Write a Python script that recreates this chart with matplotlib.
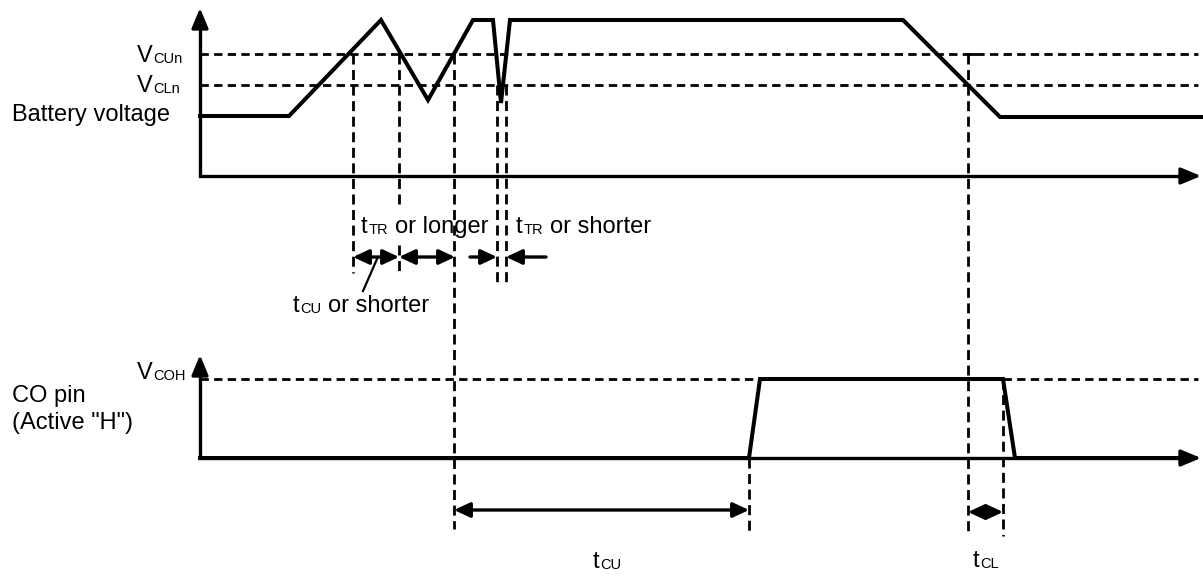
import matplotlib
matplotlib.use("Agg")
import matplotlib.pyplot as plt

plt.rcParams['font.family'] = ['Liberation Sans', 'DejaVu Sans']

# ---------------- data (diagram units: x = time, y = level, y grows downward) ----------------
W, H = 1203, 576

# battery voltage waveform
bat_t = [200, 289, 381, 428, 473, 493, 501, 510, 903, 1000, 1203]
bat_v = [116, 116, 20, 100, 20, 20, 103, 20, 20, 117, 117]

# CO pin waveform
co_t = [200, 749, 760, 1003, 1015, 1190]
co_v = [458, 458, 379, 379, 458, 458]

# threshold levels
v_cun = 54
v_cln = 85
v_coh = 379

# axes geometry
x_axis0 = 200
x_axis_end = 1201
top_base, top_tip = 176, 8
bot_base, bot_tip = 458, 355

# vertical dashed markers: (x, y_start, y_end)
markers = [
    (353, v_cun, 273),
    (399, v_cun, 205), (399, 245, 273),
    (454, v_cun, 529),
    (497, v_cln, 284),
    (506, v_cln, 282),
    (749, bot_base, 533),
    (968, v_cun, 536),
    (1003, v_coh, 536),
]

# dimension arrows: (x_from, x_to, y, style)
dims = [
    (353, 399, 257, '<|-|>'),
    (399, 455, 257, '<|-|>'),
    (470, 497, 257, '-|>'),
    (546, 506, 257, '-|>'),
    (454, 749, 510, '<|-|>'),
    (968, 1003, 512, '<|-|>'),
]

# ---------------- figure ----------------
fig = plt.figure(figsize=(W / 100, H / 100), dpi=100)
ax = fig.add_axes([0, 0, 1, 1])
ax.set_xlim(0, W)
ax.set_ylim(H, 0)
ax.axis('off')

K = 'black'
AX_LW = 2.4
WAVE_LW = 2.9
DASH_LW = 2.0

# axes (with arrows)
for base, tip in [(top_base, top_tip), (bot_base, bot_tip)]:
    ax.plot([x_axis0, x_axis0, x_axis_end - 15], [tip + 15, base, base], color=K,
            lw=AX_LW, solid_joinstyle='miter', solid_capstyle='butt')
    ax.annotate('', xy=(x_axis0, tip), xytext=(x_axis0, tip + 20),
                arrowprops=dict(arrowstyle='-|>,head_length=0.6,head_width=0.25',
                                color=K, lw=AX_LW, shrinkA=0, shrinkB=0, mutation_scale=20))
    ax.annotate('', xy=(x_axis_end, base), xytext=(x_axis_end - 20, base),
                arrowprops=dict(arrowstyle='-|>,head_length=0.6,head_width=0.25',
                                color=K, lw=AX_LW, shrinkA=0, shrinkB=0, mutation_scale=20))

# threshold dashed lines
for lvl in [v_cun, v_cln, v_coh]:
    ax.plot([x_axis0, 1198], [lvl, lvl], color=K, lw=DASH_LW,
            linestyle=(0, (3.0, 1.9)))

# waveforms
ax.plot(bat_t, bat_v, color=K, lw=WAVE_LW, solid_joinstyle='miter')
ax.plot(co_t, co_v, color=K, lw=WAVE_LW, solid_joinstyle='miter')

# vertical dashed markers
for x, y0, y1 in markers:
    ax.plot([x, x], [y0, y1], color=K, lw=DASH_LW, linestyle=(0, (3.6, 2.0)))
ax.plot([968, 975], [v_cun, v_cun], color=K, lw=DASH_LW)

# dimension arrows
for x0, x1, y, st in dims:
    ax.annotate('', xy=(x1, y), xytext=(x0, y),
                arrowprops=dict(arrowstyle=st + ',head_length=0.6,head_width=0.28',
                                color=K, lw=2.4, shrinkA=0, shrinkB=0, mutation_scale=16))

# leader line for tCU or shorter
ax.plot([377, 363], [259, 291], color=K, lw=1.6)

# ---------------- text ----------------
fig.canvas.draw()
rend = fig.canvas.get_renderer()
MS, SS = 17, 10.5


def width(t):
    return t.get_window_extent(rend).width


def sub_label(x, y, main, sub, tail='', ha='left'):
    t1 = ax.text(0, y, main, fontsize=MS, va='baseline', ha='left', color=K)
    t2 = ax.text(0, y + 1, sub, fontsize=SS, va='baseline', ha='left', color=K)
    w1, w2 = width(t1), width(t2)
    gap = 6.5 if tail else 0
    t3 = None
    w3 = 0
    if tail:
        t3 = ax.text(0, y, tail, fontsize=MS, va='baseline', ha='left', color=K)
        w3 = width(t3)
    total = w1 + 1 + w2 + gap + w3
    if ha == 'right':
        x0 = x - total
    elif ha == 'center':
        x0 = x - total / 2
    else:
        x0 = x
    t1.set_x(x0)
    t2.set_x(x0 + w1 + 1)
    if t3 is not None:
        t3.set_x(x0 + w1 + 1 + w2 + gap)


sub_label(183, 62, 'V', 'CUn', ha='right')
sub_label(180, 92, 'V', 'CLn', ha='right')
ax.text(12, 121, 'Battery voltage', fontsize=MS, va='baseline', ha='left', color=K)

sub_label(361, 233, 't', 'TR', 'or longer')
sub_label(516, 233, 't', 'TR', 'or shorter')
sub_label(293, 312, 't', 'CU', 'or shorter')

sub_label(186, 379, 'V', 'COH', ha='right')
ax.text(12, 402, 'CO pin', fontsize=MS, va='baseline', ha='left', color=K)
ax.text(12, 429, '(Active "H")', fontsize=MS, va='baseline', ha='left', color=K)

sub_label(607, 568, 't', 'CU', ha='center')
sub_label(986, 567, 't', 'CL', ha='center')

fig.savefig('out.png', dpi=100, facecolor='white')
